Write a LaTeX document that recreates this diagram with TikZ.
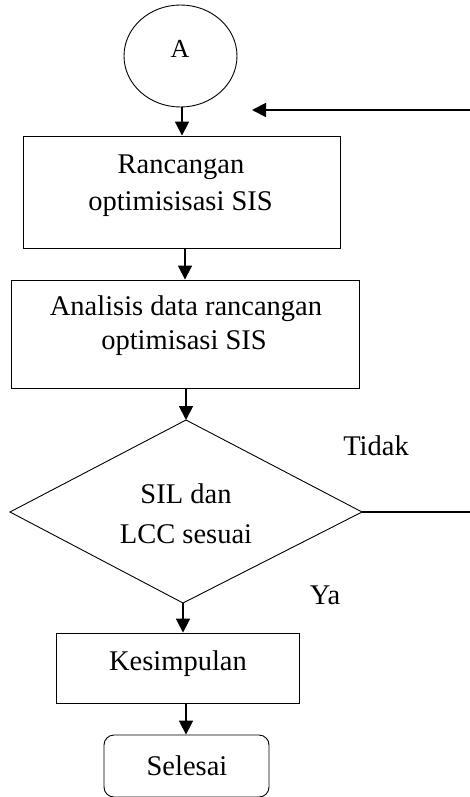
\documentclass[tikz,border=0pt]{standalone}
\usepackage{fontspec}
\setmainfont{Liberation Serif}
\usetikzlibrary{arrows.meta,shapes.geometric}
\begin{document}
\begin{tikzpicture}[x=1pt,y=1pt,
  shapeline/.style={draw=black,line width=0.9pt},
  boxnode/.style={shapeline,rectangle,inner sep=0pt},
  txt/.style={anchor=base,inner sep=0pt,font=\fontsize{28.5}{34}\selectfont},
  arr/.style={line width=1.8pt,-{Triangle[width=14pt,length=14pt]}},
  plainline/.style={line width=1.6pt}]
\useasboundingbox (0,0) rectangle (470,-797);
% start connector
\node[shapeline,ellipse,minimum width=113pt,minimum height=102pt,inner sep=0pt] (start) at (180.5,-56) {};
\node[txt,font=\fontsize{26}{30}\selectfont] (tA) at (180,-58) {A};
% box 1
\node[boxnode,minimum width=317pt,minimum height=112pt] (b1) at (181.5,-192) {};
\node[txt] (t1a) at (181,-173) {Rancangan};
\node[txt] (t1b) at (180.5,-210) {optimisisasi SIS};
% box 2
\node[boxnode,minimum width=348pt,minimum height=108pt] (b2) at (185,-334) {};
\node[txt] (t2a) at (186,-315) {Analisis data rancangan};
\node[txt] (t2b) at (184,-349) {optimisasi SIS};
% decision
\coordinate (dtop) at (186,-420);
\coordinate (dleft) at (10,-512);
\coordinate (dright) at (362,-512);
\coordinate (dbot) at (183,-603);
\draw[shapeline] (dtop) -- (dright) -- (dbot) -- (dleft) -- cycle;
\node[txt] (t3a) at (186,-503) {SIL dan};
\node[txt] (t3b) at (186,-543) {LCC sesuai};
\node[txt] (tidak) at (376,-455) {Tidak};
\node[txt] (ya) at (325,-604) {Ya};
% box 3
\node[boxnode,minimum width=243pt,minimum height=70pt] (b3) at (177.5,-668) {};
\node[txt] (t4) at (178,-670) {Kesimpulan};
% terminator
\node[shapeline,rectangle,rounded corners=10pt,minimum width=165pt,minimum height=62pt,inner sep=0pt] (end) at (186.5,-766) {};
\node[txt] (t5) at (187,-775) {Selesai};
% connectors
\draw[arr] (start.south -| 182,0) -- (b1.north -| 182,0);
\draw[arr] (b1.south -| 185,0) -- (b2.north -| 185,0);
\draw[arr] (b2.south -| 186,0) -- (dtop);
\draw[arr] (dbot) -- (b3.north -| 183,0);
\draw[arr] (b3.south -| 186,0) -- (end.north -| 186,0);
% feedback
\coordinate (fbin) at (470,-110);
\coordinate (fbtip) at (252,-110);
\draw[arr] (fbin) -- (fbtip);
\coordinate (noout) at (470,-512);
\draw[plainline] (dright) -- (noout);
\end{tikzpicture}
\end{document}
